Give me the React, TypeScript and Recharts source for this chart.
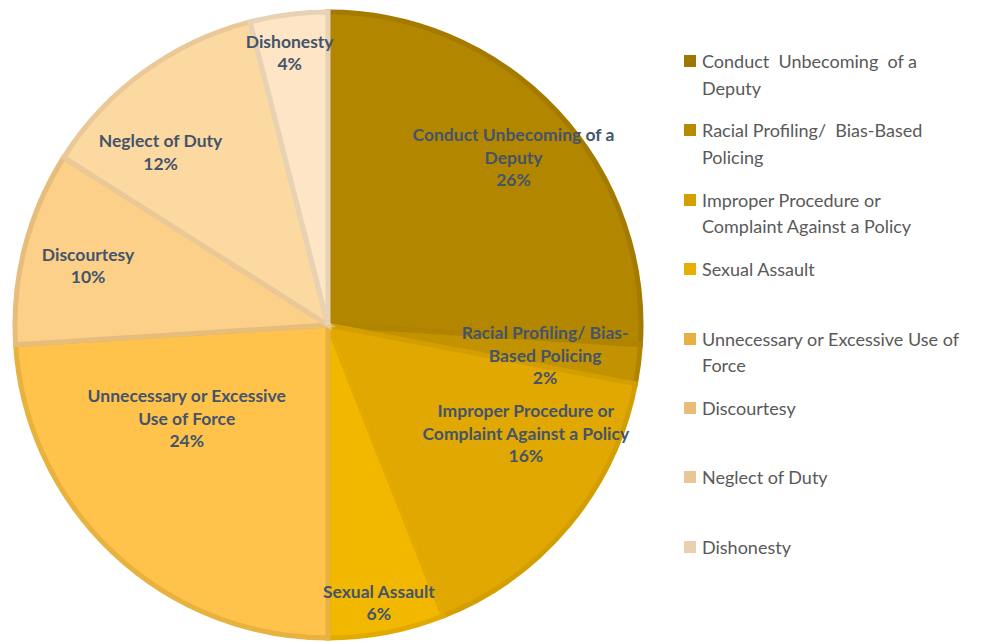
import { PieChart, Pie, Cell, Legend } from 'recharts';

const categories = [
  'Conduct Unbecoming of a Deputy',
  'Racial Profiling/ Bias-Based Policing',
  'Improper Procedure or Complaint Against a Policy',
  'Sexual Assault',
  'Unnecessary or Excessive Use of Force',
  'Discourtesy',
  'Neglect of Duty',
  'Dishonesty',
];
const values = [26, 2, 16, 6, 24, 10, 12, 4];

// how the labels inside the slices break
const labelLines = [
  ['Conduct Unbecoming of a', 'Deputy'],
  ['Racial Profiling/ Bias-', 'Based Policing'],
  ['Improper Procedure or', 'Complaint Against a Policy'],
  ['Sexual Assault'],
  ['Unnecessary or Excessive', 'Use of Force'],
  ['Discourtesy'],
  ['Neglect of Duty'],
  ['Dishonesty'],
];
const legendLines = [
  ['Conduct  Unbecoming  of a', 'Deputy'],
  ['Racial Profiling/  Bias-Based', 'Policing'],
  ['Improper Procedure or', 'Complaint Against a Policy'],
  ['Sexual Assault'],
  ['Unnecessary or Excessive Use of', 'Force'],
  ['Discourtesy'],
  ['Neglect of Duty'],
  ['Dishonesty'],
];

const fills = ['#B38600', '#C39200', '#E0A800', '#F2B800', '#FFC34B', '#FDD089', '#FDD9A2', '#FEE5C6'];
const borders = ['#A47B00', '#B08400', '#D29E00', '#E2AA00', '#E8B23E', '#E6BD7C', '#EAC898', '#E8D2B4'];
const legendColors = ['#9E7700', '#B88A00', '#D4A000', '#E8AE00', '#E8B040', '#E8BD78', '#E8C696', '#E8D0B0'];

// label placement tweaks (radius fraction, angle nudge in degrees)
const labelRadius = [0.8, 0.7, 0.72, 0.9, 0.54, 0.79, 0.77, 0.88];
const labelNudge = [-1, -0.6, 11, -0.4, -13.5, 0.4, 8, 0.8];

const data = categories.map((name, i) => ({ name, value: values[i] }));

const RAD = Math.PI / 180;

function renderLabel(props: any) {
  const { cx, cy, midAngle, outerRadius, index, percent } = props;
  const r = outerRadius * labelRadius[index];
  const a = (midAngle + labelNudge[index]) * RAD;
  const x = cx + r * Math.cos(a);
  const y = cy - r * Math.sin(a);
  const lines = [...labelLines[index], `${Math.round(percent * 100)}%`];
  const lh = 22.5;
  const y0 = y - ((lines.length - 1) * lh) / 2;
  return (
    <text
      x={x}
      y={y0}
      textAnchor="middle"
      dominantBaseline="central"
      fill="#44546A"
      fontFamily="Lato, 'Liberation Sans', sans-serif"
      fontWeight="bold"
      fontSize={17.5}
    >
      {lines.map((l, k) => (
        <tspan key={k} x={x} y={y0 + k * lh}>
          {l}
        </tspan>
      ))}
    </text>
  );
}

function renderLegend() {
  return (
    <div style={{ fontFamily: "Lato, 'Liberation Sans', sans-serif", fontSize: 18, color: '#595959' }}>
      {categories.map((c, i) => (
        <div key={c} style={{ position: 'relative', height: 69.4 }}>
          <span
            style={{
              position: 'absolute',
              left: 0,
              top: 7,
              width: 12,
              height: 12,
              background: legendColors[i],
            }}
          />
          <div style={{ position: 'absolute', left: 18, top: 0, lineHeight: '26.5px', whiteSpace: 'pre' }}>
            {legendLines[i].map((l, k) => (
              <div key={k}>{l}</div>
            ))}
          </div>
        </div>
      ))}
    </div>
  );
}

export default function App() {
  return (
    <div style={{ position: 'absolute', left: 0, top: 0, background: '#fff' }}>
      <PieChart width={981} height={642} margin={{ top: 0, right: 0, bottom: 0, left: 0 }}>
        <Pie
          data={data}
          dataKey="value"
          nameKey="name"
          cx={328}
          cy={325}
          outerRadius={313}
          startAngle={90}
          endAngle={-270}
          label={renderLabel}
          labelLine={false}
          isAnimationActive={false}
        >
          {data.map((d, i) => (
            <Cell key={d.name} fill={fills[i]} stroke={borders[i]} strokeWidth={5} />
          ))}
        </Pie>
        <Legend
          layout="vertical"
          align="right"
          verticalAlign="top"
          content={renderLegend}
          wrapperStyle={{ left: 684, top: 48, width: 297 }}
        />
      </PieChart>
    </div>
  );
}
